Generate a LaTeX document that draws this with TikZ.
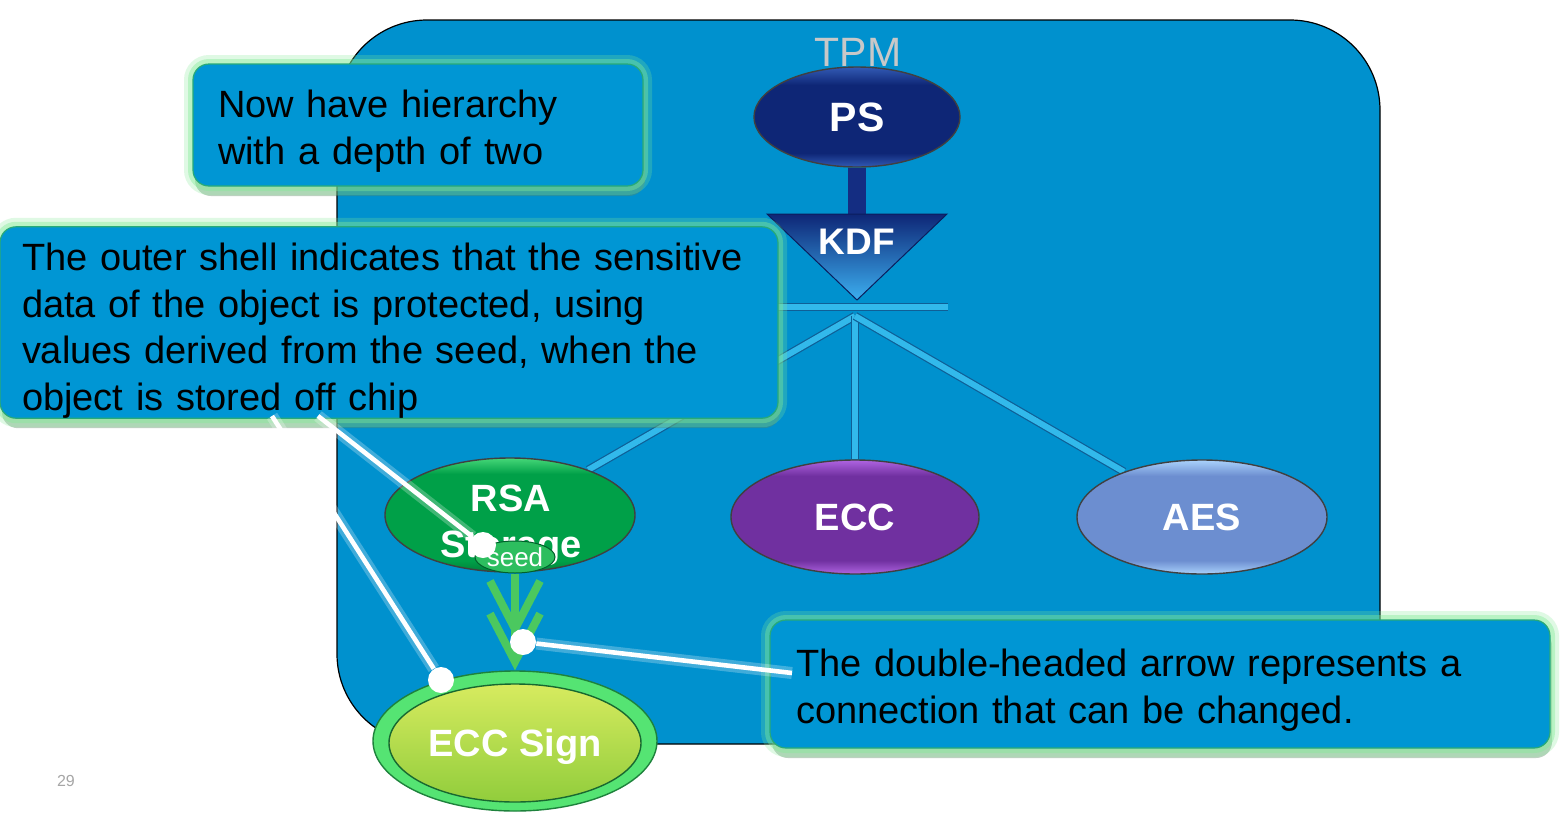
\documentclass[tikz,border=0pt]{standalone}
\usepackage{fontspec}
\setmainfont{Liberation Sans}
\usetikzlibrary{shapes.geometric,arrows.meta,shadows}
\pgfdeclarelayer{back}
\pgfdeclarelayer{mid}
\pgfsetlayers{back,mid,main}
\definecolor{tpmblue}{RGB}{0,145,206}
\definecolor{tpmgrey}{RGB}{200,200,200}
\definecolor{callblue}{RGB}{0,150,212}
\definecolor{calledge}{RGB}{40,170,120}
\definecolor{glow}{RGB}{130,235,150}
\definecolor{shadowc}{RGB}{90,140,100}
\definecolor{navy}{RGB}{14,38,118}
\definecolor{navytop}{RGB}{50,90,180}
\definecolor{navylink}{RGB}{20,45,130}
\definecolor{kdfapex}{RGB}{60,175,240}
\definecolor{cyanline}{RGB}{50,185,235}
\definecolor{cyandark}{RGB}{15,95,150}
\definecolor{rsagreen}{RGB}{0,160,72}
\definecolor{rsatop}{RGB}{70,215,120}
\definecolor{seedgreen}{RGB}{45,190,95}
\definecolor{eccpurple}{RGB}{112,48,160}
\definecolor{ecctop}{RGB}{175,100,225}
\definecolor{aesblue}{RGB}{108,142,208}
\definecolor{aestop}{RGB}{170,210,252}
\definecolor{arrowgreen}{RGB}{75,200,95}
\definecolor{signouter}{RGB}{85,228,115}
\definecolor{signedge}{RGB}{30,130,60}
\definecolor{signtop}{RGB}{215,235,95}
\definecolor{signbot}{RGB}{145,205,60}
\pgfdeclareverticalshading{psshade}{100bp}{color(0bp)=(navytop); color(25bp)=(navytop); color(32bp)=(navy); color(66bp)=(navy); color(75bp)=(navytop); color(100bp)=(navytop)}
\pgfdeclareverticalshading{rsashade}{100bp}{color(0bp)=(rsagreen!80!black); color(25bp)=(rsagreen!80!black); color(30bp)=(rsagreen); color(68bp)=(rsagreen); color(75bp)=(rsatop); color(100bp)=(rsatop)}
\pgfdeclareverticalshading{eccshade}{100bp}{color(0bp)=(ecctop); color(25bp)=(ecctop); color(31bp)=(eccpurple); color(68bp)=(eccpurple); color(75bp)=(ecctop); color(100bp)=(ecctop)}
\pgfdeclareverticalshading{aesshade}{100bp}{color(0bp)=(aestop); color(25bp)=(aestop); color(31bp)=(aesblue); color(68bp)=(aesblue); color(75bp)=(aestop); color(100bp)=(aestop)}
\newcommand{\topfix}[1]{\rule{0pt}{#1}}
\tikzset{
  callout/.style={rectangle, rounded corners=8pt, fill=callblue, draw=calledge,
    line width=0.6pt, align=left, inner ysep=0pt, text=black,
    font=\fontsize{19}{23.25}\selectfont,
    drop shadow={shadow xshift=1pt, shadow yshift=-5pt, fill=shadowc, opacity=0.4},
    preaction={draw=glow, line width=9pt, opacity=0.25},
    preaction={draw=glow, line width=5pt, opacity=0.4}},
  keynode/.style={ellipse, draw=black!75, line width=0.7pt, text=white, align=center,
    inner sep=0pt, font=\bfseries\fontsize{19}{23}\selectfont},
  keytext/.style={text=white, align=center, inner sep=0pt, font=\bfseries\fontsize{19}{23}\selectfont},
  link/.style={draw=cyandark, line width=4.2pt, postaction={draw=cyanline, line width=3pt}},
  pointer/.style={draw=white, line width=2.3pt, preaction={draw=white, line width=6pt, opacity=0.25}},
  pdot/.style={circle, fill=white, minimum size=13pt, inner sep=0pt},
}
\begin{document}
\begin{tikzpicture}[x=0.5pt,y=-0.5pt]
\useasboundingbox (0,0) rectangle (1565,820);
\begin{pgfonlayer}{back}
  \fill[white] (0,0) rectangle (1565,820);
  \node[rectangle, rounded corners=45pt, fill=tpmblue, draw=black, line width=0.6pt,
        minimum width=521.5pt, minimum height=362pt] (tpm) at (858.5,382) {};
\end{pgfonlayer}

\node[text=tpmgrey, font=\fontsize{20.5}{24}\selectfont] (tpmlabel) at (858,52) {TPM};

% PS
\node[keynode, minimum width=103pt, minimum height=50pt, shading=psshade, text depth=0pt,
      font=\bfseries\fontsize{20.5}{24}\selectfont] (ps) at (857,117) {PS};

% KDF triangle
\coordinate (kdftopL) at (767,214);
\coordinate (kdftopR) at (947,214);
\coordinate (kdftop) at (857,214);
\coordinate (kdfapexpt) at (857,300);
\fill[top color=navy, bottom color=kdfapex, draw=navy!80!black, line width=0.5pt]
  (kdftopL) -- (kdftopR) -- (kdfapexpt) -- cycle;
\node[text=white, font=\bfseries\fontsize{18.5}{22}\selectfont] (kdf) at (857,242) {KDF};

% hub
\coordinate (barL) at (760,307);
\coordinate (barR) at (948,307);
\coordinate (hub) at (855,316);

% key nodes
\node[keynode, minimum width=125pt, minimum height=57pt, shading=rsashade] (rsa) at (510,515) {};
\node[keytext] (rsalabel) at (511,525) {RSA\\Storage};
\node[ellipse, draw=rsagreen!60!black, line width=0.5pt, fill=seedgreen, text=white, inner sep=0pt,
      minimum width=40pt, minimum height=16pt, font=\fontsize{13}{15}\selectfont] (seed) at (515,557) {seed};
\node[keynode, minimum width=124pt, minimum height=57pt, shading=eccshade, text depth=0pt] (ecc) at (855,517) {ECC};
\node[keynode, minimum width=125pt, minimum height=57pt, shading=aesshade, text depth=0pt] (aes) at (1202,517) {AES};

% ECC Sign
\node[ellipse, draw=signedge, line width=0.7pt, fill=signouter, inner sep=0pt,
      minimum width=142pt, minimum height=70pt] (sign) at (515,741) {};
\node[keynode, draw=signedge!80!black, minimum width=126pt, minimum height=59pt, text depth=0pt,
      top color=signtop, bottom color=signbot] (signin) at (515,743) {ECC Sign};

\begin{pgfonlayer}{mid}
  \draw[draw=navylink, line width=9pt] (ps.south) -- (kdftop);
  \draw[link] (barL) -- (barR);
  \draw[link] (hub) -- (rsa);
  \draw[link] (hub) -- (ecc.north);
  \draw[link] (hub) -- (aes);
\end{pgfonlayer}

% double-headed arrow
\draw[draw=arrowgreen, line width=4pt,
  -{Straight Barb[length=24pt,width=25pt,line width=4pt,sep=-14pt]Straight Barb[length=24pt,width=25pt,line width=4pt]}]
  (seed.south) -- (sign.north);

% callouts
\node[callout, text width=200pt, inner xsep=12.5pt, minimum height=61pt] (c1) at (418,125)
  {\topfix{20pt}Now have hierarchy\\with a depth of two};
\node[callout, text width=367pt, inner xsep=11pt, minimum height=92.5pt] (c2) at (389,322.5)
  {\topfix{22pt}The outer shell indicates that the sensitive\\data of the object is protected, using\\values derived from the seed, when the\\object is stored off chip};
\node[callout, text width=364pt, inner xsep=13pt, minimum height=64pt] (c3) at (1160,684)
  {\topfix{20pt}The double-headed arrow represents a\\connection that can be changed.};

% pointers
\coordinate (p1) at (318,416);
\coordinate (p2) at (272,416);
\coordinate (p3) at (792,673);
\node[pdot] (d1) at (483,545) {};
\node[pdot] (d2) at (441,680) {};
\node[pdot] (d3) at (523,642) {};
\draw[pointer] (p1) -- (d1);
\draw[pointer] (p2) -- (d2);
\draw[pointer] (p3) -- (d3);

\node[text=black!35, font=\fontsize{8}{10}\selectfont] (num) at (66,781) {29};
\end{tikzpicture}
\end{document}
